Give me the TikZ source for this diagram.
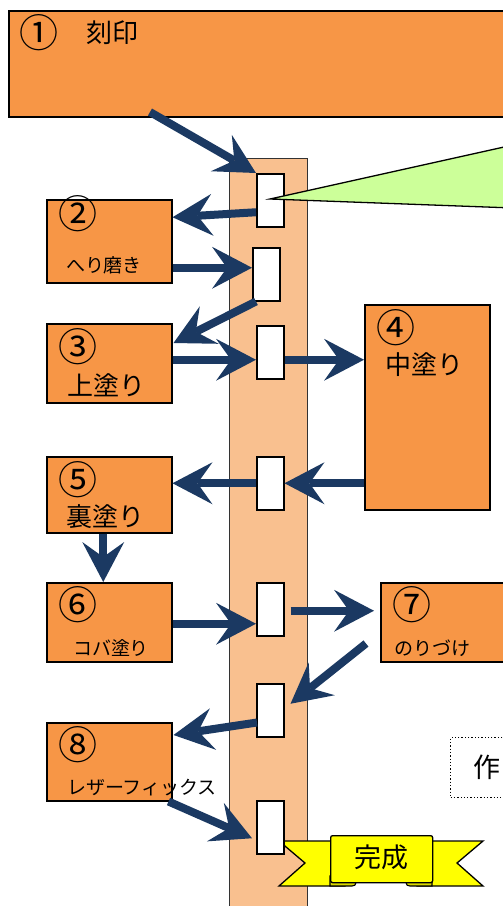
\documentclass[tikz,border=0pt]{standalone}
\usepackage{fontspec}
\setmainfont{Noto Sans CJK JP}
\usetikzlibrary{arrows.meta}
\definecolor{boxor}{HTML}{F79646}
\definecolor{baror}{HTML}{F9C08F}
\definecolor{navy}{HTML}{1B3962}
\definecolor{lgreen}{HTML}{CCFF99}
\definecolor{ribbony}{HTML}{FFFF00}
\definecolor{ribbonfold}{HTML}{D8D800}
\begin{document}
\begin{tikzpicture}[x=1pt,y=-1pt,
  stepbox/.style={draw=black, line width=1.5pt, fill=boxor, anchor=north west, inner sep=0pt},
  slot/.style={draw=black, line width=1.5pt, fill=white, anchor=north west, inner sep=0pt, minimum width=27pt, minimum height=53pt},
  flow/.style={draw=navy, line width=8pt, -{Stealth[length=40pt, width=42pt, inset=15pt, line width=0pt]}},
  lbl/.style={inner sep=0pt, anchor=center},
  num/.style={lbl, font=\fontsize{39}{39}\selectfont},
  big/.style={lbl, font=\fontsize{26}{26}\selectfont},
  small/.style={lbl, font=\fontsize{19}{19}\selectfont},
]
\useasboundingbox (0,0) rectangle (503,906);
\clip (0,0) rectangle (503,906);

% vertical bar
\node[draw=black!80, line width=1.2pt, fill=baror, anchor=north west, inner sep=0pt,
      minimum width=78pt, minimum height=780pt] (bar) at (229,158) {};

% step 1
\node[stepbox, minimum width=540pt, minimum height=106pt] (b1) at (8,10) {};
\node[num] (n1) at (39,33) {①};
\node[big] (t1) at (112,33) {刻印};

% step boxes
\node[stepbox, minimum width=125pt, minimum height=83pt] (b2) at (46,199) {};
\node[num] (n2) at (78,214) {②};
\node[small] (t2) at (104,265) {へり磨き};

\node[stepbox, minimum width=125pt, minimum height=79pt] (b3) at (46,323) {};
\node[num] (n3) at (78,347) {③};
\node[big] (t3) at (106,385) {上塗り};

\node[stepbox, minimum width=125pt, minimum height=205pt] (b4) at (364,304) {};
\node[num] (n4) at (396,328) {④};
\node[big] (t4) at (424,365) {中塗り};

\node[stepbox, minimum width=125pt, minimum height=76pt] (b5) at (46,456) {};
\node[num] (n5) at (78,480) {⑤};
\node[big] (t5) at (105,517) {裏塗り};

\node[stepbox, minimum width=125pt, minimum height=79pt] (b6) at (46,582) {};
\node[num] (n6) at (78,605) {⑥};
\node[small] (t6) at (111,648) {コバ塗り};

\node[stepbox, minimum width=160pt, minimum height=79pt] (b7) at (380,582) {};
\node[num] (n7) at (412,605) {⑦};
\node[small] (t7) at (432,648) {のりづけ};

\node[stepbox, minimum width=125pt, minimum height=78pt] (b8) at (46,722) {};
\node[num] (n8) at (78,745) {⑧};
\node[small] (t8) at (142,788) {レザーフィックス};

% dotted note box
\node[draw=black, dotted, line width=1.3pt, anchor=north west, inner sep=0pt,
      minimum width=80pt, minimum height=60pt] (note) at (450,737) {};
\node[lbl, font=\fontsize{27}{27}\selectfont] (tn) at (487,767) {作};

% ribbon
\path[fill=ribbony, draw=black, line width=1.3pt, line join=miter]
  (279,841) -- (345,841) -- (345,886) -- (279,886) -- (305,863) -- cycle;
\path[fill=ribbony, draw=black, line width=1.3pt, line join=miter]
  (483,841) -- (417,841) -- (417,886) -- (483,886) -- (457,863) -- cycle;
\path[fill=ribbonfold, draw=black, line width=1.1pt]
  (330,876) -- (330,886) -- (352,886) .. controls (357,886) and (357,881) .. (352,881) -- cycle;
\path[fill=ribbonfold, draw=black, line width=1.1pt]
  (432,876) -- (432,886) -- (410,886) .. controls (405,886) and (405,881) .. (410,881) -- cycle;
\node[fill=ribbony, draw=black, line width=1.3pt, rounded corners=2pt, anchor=north west, inner sep=0pt,
      minimum width=102pt, minimum height=47pt] (rib) at (330,835) {};
\node[lbl, font=\fontsize{27}{27}\selectfont] (done) at (381,857) {完成};

% slots
\node[slot] (s1) at (256,173) {};
\node[slot] (s2) at (252,247) {};
\node[slot] (s3) at (256,325) {};
\node[slot] (s4) at (256,456) {};
\node[slot] (s5) at (256,582) {};
\node[slot] (s6) at (256,683) {};
\node[slot] (s7) at (256,800) {};

% green callout
\path[fill=lgreen, draw=black, line width=1.3pt, line join=miter]
  (270,199) -- (540,139) -- (540,209) -- cycle;

% arrows
\coordinate (a1s) at (150,112);
\draw[flow] (a1s) -- (s1.north west);
\draw[flow] ([yshift=-12pt]s1.west) -- ([yshift=24pt]b2.east);
\draw[flow] ([yshift=-26.5pt]b2.east) -- ([yshift=-26.5pt]b2.east -| s2.west);
\draw[flow] ([xshift=4pt]s2.south west) -- ([yshift=-20pt,xshift=1pt]b3.north east);
\draw[flow] ([yshift=3.5pt]b3.east) -- ([yshift=3.5pt]b3.east -| s3.west);
\draw[flow] ([yshift=-7.5pt]s3.east) -- ([yshift=-7.5pt]s3.east -| b4.west);
\draw[flow] (b4.west |- s4.east) -- (s4.east);
\draw[flow] (s4.west) -- (s4.west -| b5.east);
\draw[flow] ([xshift=-6pt]b5.south) -- ([xshift=-6pt]b6.north);
\draw[flow] ([yshift=-1.5pt]b6.east) -- ([yshift=-1.5pt]b6.east -| s5.west);
\draw[flow] ([xshift=6pt,yshift=-1.5pt]s5.east) -- ([xshift=-6pt,yshift=-1.5pt]s5.east -| b7.west);
\draw[flow] ([xshift=-14pt,yshift=19pt]b7.south west) -- ([xshift=6pt,yshift=6.5pt]s6.east);
\draw[flow] ([xshift=1pt,yshift=15pt]s6.south west) -- ([yshift=-13pt,xshift=1pt]b8.north east);
\draw[flow] ([xshift=-4pt]b8.south east) -- ([xshift=-4pt,yshift=-11pt]s7.west);
\end{tikzpicture}
\end{document}
